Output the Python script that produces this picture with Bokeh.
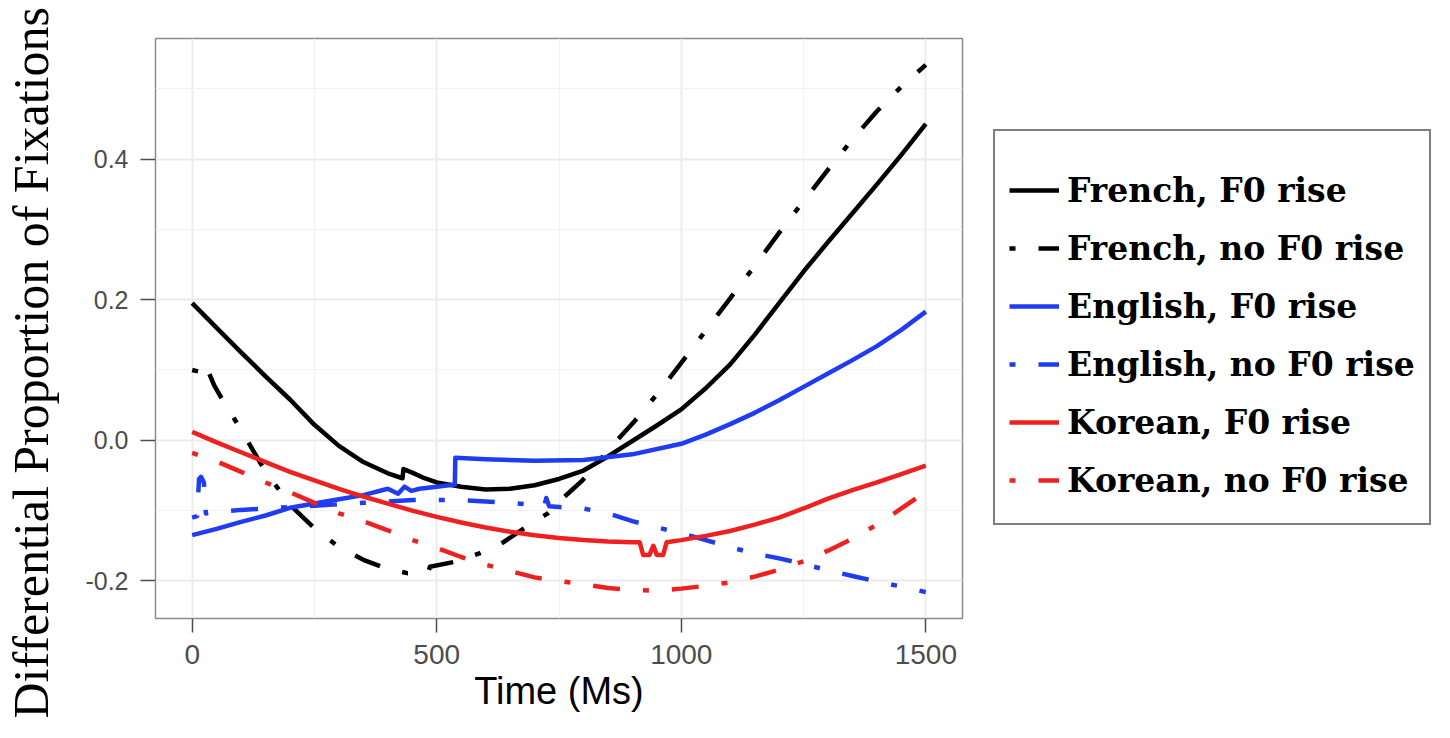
from bokeh.plotting import figure
from bokeh.layouts import row
from bokeh.models import Range1d, FixedTicker, Legend, LegendItem, Title
from bokeh.embed import file_html
from bokeh.resources import INLINE

# ---------------- data ----------------
x_ticks = [0, 500, 1000, 1500]
x_minor = [250, 750, 1250]
y_ticks = [-0.2, 0.0, 0.2, 0.4]
y_minor = [-0.1, 0.1, 0.3, 0.5]
y_tick_labels = {-0.2: "-0.2", 0.0: "0.0", 0.2: "0.2", 0.4: "0.4"}

french_rise_t = [0, 50, 100, 150, 200, 250, 300, 350, 400, 430, 432, 450, 475, 500, 550, 600,
                 650, 700, 750, 800, 850, 900, 950, 1000, 1050, 1100, 1150, 1200, 1250, 1300,
                 1350, 1400, 1450, 1500]
french_rise_v = [0.195, 0.160, 0.125, 0.091, 0.058, 0.022, -0.008, -0.031, -0.047, -0.054, -0.041,
                 -0.046, -0.054, -0.060, -0.066, -0.070, -0.069, -0.064, -0.055, -0.043, -0.023,
                 -0.001, 0.021, 0.044, 0.074, 0.108, 0.150, 0.195, 0.240, 0.282, 0.323, 0.364,
                 0.406, 0.450]

french_norise_t = [0, 18, 22, 30, 45, 65, 100, 125, 150, 175, 200, 250, 300, 350, 400, 440, 483,
                   486, 536, 587, 632, 679, 727, 760, 798, 862, 903, 951, 1000, 1050, 1100, 1150,
                   1200, 1250, 1300, 1350, 1400, 1450, 1500]
french_norise_v = [0.100, 0.097, 0.108, 0.103, 0.078, 0.054, 0.015, -0.015, -0.045, -0.068, -0.092,
                   -0.125, -0.152, -0.170, -0.183, -0.189, -0.188, -0.180, -0.173, -0.161, -0.147,
                   -0.125, -0.104, -0.081, -0.057, -0.005, 0.026, 0.066, 0.110, 0.156, 0.202,
                   0.248, 0.295, 0.340, 0.385, 0.428, 0.468, 0.503, 0.534]

english_rise_t = [0, 50, 100, 150, 200, 250, 300, 350, 400, 421, 434, 448, 465, 500, 537, 538, 600,
                  700, 800, 900, 1000, 1050, 1100, 1150, 1200, 1250, 1300, 1350, 1400, 1450, 1500]
english_rise_v = [-0.135, -0.126, -0.116, -0.107, -0.096, -0.090, -0.084, -0.078, -0.069, -0.076,
                  -0.066, -0.072, -0.069, -0.066, -0.063, -0.025, -0.027, -0.029, -0.028, -0.020,
                  -0.005, 0.008, 0.023, 0.039, 0.057, 0.076, 0.095, 0.114, 0.134, 0.157, 0.183]

english_norise_t = [0, 10, 14, 18, 24, 28, 50, 100, 150, 200, 250, 300, 350, 400, 450, 500, 550,
                    600, 650, 700, 720, 724, 730, 750, 800, 850, 900, 950, 1000, 1050, 1100, 1150,
                    1200, 1250, 1300, 1350, 1400, 1450, 1500]
english_norise_v = [-0.110, -0.108, -0.055, -0.052, -0.060, -0.104, -0.102, -0.099, -0.097, -0.095,
                    -0.093, -0.091, -0.089, -0.087, -0.085, -0.085, -0.085, -0.087, -0.089, -0.092,
                    -0.093, -0.082, -0.094, -0.095, -0.097, -0.104, -0.115, -0.124, -0.132, -0.142,
                    -0.152, -0.161, -0.168, -0.176, -0.185, -0.193, -0.201, -0.208, -0.216]

korean_rise_t = [0, 50, 100, 150, 200, 250, 300, 350, 400, 450, 500, 550, 600, 650, 700, 750, 800,
                 850, 900, 915, 922, 935, 943, 950, 963, 970, 1000, 1050, 1100, 1150, 1200, 1250,
                 1300, 1350, 1400, 1450, 1500]
korean_rise_v = [0.012, -0.003, -0.017, -0.031, -0.045, -0.057, -0.069, -0.080, -0.090, -0.100,
                 -0.109, -0.117, -0.124, -0.130, -0.135, -0.139, -0.142, -0.144, -0.145, -0.145,
                 -0.163, -0.163, -0.150, -0.163, -0.163, -0.145, -0.142, -0.136, -0.129, -0.120,
                 -0.110, -0.097, -0.083, -0.071, -0.060, -0.048, -0.036]

korean_norise_t = [0, 50, 100, 150, 200, 250, 300, 350, 400, 450, 500, 550, 600, 650, 700, 750,
                   800, 850, 900, 950, 1000, 1050, 1100, 1150, 1200, 1250, 1300, 1350, 1400, 1450,
                   1500]
korean_norise_v = [-0.018, -0.030, -0.045, -0.060, -0.074, -0.089, -0.104, -0.115, -0.128, -0.142,
                   -0.153, -0.166, -0.177, -0.186, -0.195, -0.200, -0.205, -0.210, -0.213, -0.214,
                   -0.211, -0.207, -0.202, -0.194, -0.184, -0.172, -0.157, -0.140, -0.120, -0.097,
                   -0.073]

series_labels = ["French, F0 rise", "French, no F0 rise", "English, F0 rise",
                 "English, no F0 rise", "Korean, F0 rise", "Korean, no F0 rise"]

x_title = "Time (Ms)"
y_title = "Differential Proportion of Fixations"

# ---------------- styles ----------------
BLACK = "#000000"
BLUE = "#1f3cf0"
RED = "#ee2020"
DOTDASH = "6 23 27 23"
LW = 4.5
PAGE_H = 738
LAB_W = 60

# ---- narrow strip that carries the long y-axis title (a side-panel title, not clipped) ----
lab = figure(width=LAB_W, height=PAGE_H, output_backend="svg", toolbar_location=None,
             x_range=Range1d(0, 1), y_range=Range1d(0, 1), min_border=0)
lab.axis.visible = False
lab.grid.visible = False
lab.outline_line_color = None
lab.background_fill_color = "white"
lab.border_fill_color = "white"
lab.add_layout(Title(text=y_title, align="left", offset=-100, standoff=0,
                     vertical_align="bottom",
                     text_font="Liberation Serif", text_font_size="50px",
                     text_font_style="normal", text_color="black"), "left")

# ---- main plot ----
p = figure(frame_width=807, frame_height=580, output_backend="svg", toolbar_location=None,
           x_range=Range1d(-75, 1575), y_range=Range1d(-0.2535, 0.5715),
           min_border_left=155 - LAB_W, min_border_right=0, min_border_top=38,
           min_border_bottom=PAGE_H - 618)
p.background_fill_color = "white"
p.border_fill_color = "white"
p.outline_line_color = "#8c8c8c"
p.outline_line_width = 1.5

p.xaxis.ticker = FixedTicker(ticks=x_ticks, minor_ticks=x_minor)
p.yaxis.ticker = FixedTicker(ticks=y_ticks, minor_ticks=y_minor)
p.yaxis.major_label_overrides = y_tick_labels

for ax in (p.xaxis, p.yaxis):
    ax.axis_line_color = None
    ax.major_tick_line_color = "#4d4d4d"
    ax.major_tick_line_width = 1.5
    ax.major_tick_in = 0
    ax.minor_tick_line_color = None
    ax.major_label_text_font = "Liberation Sans"
    ax.major_label_text_color = "#4d4d4d"

p.xaxis.major_tick_out = 14
p.xaxis.major_label_text_font_size = "28px"
p.xaxis.major_label_standoff = 12
p.yaxis.major_tick_out = 15
p.yaxis.major_label_text_font_size = "25px"
p.yaxis.major_label_standoff = 12

p.xaxis.axis_label = x_title
p.xaxis.axis_label_text_font = "Liberation Sans"
p.xaxis.axis_label_text_font_size = "38px"
p.xaxis.axis_label_text_font_style = "normal"
p.xaxis.axis_label_text_color = "black"
p.xaxis.axis_label_standoff = 3

p.xgrid.grid_line_color = "#ebebeb"
p.xgrid.grid_line_width = 1.8
p.ygrid.grid_line_color = "#ebebeb"
p.ygrid.grid_line_width = 1.8
p.xgrid.minor_grid_line_color = "#f2f2f2"
p.xgrid.minor_grid_line_width = 1.2
p.ygrid.minor_grid_line_color = "#f2f2f2"
p.ygrid.minor_grid_line_width = 1.2

series = [
    (french_rise_t, french_rise_v, BLACK, "solid"),
    (french_norise_t, french_norise_v, BLACK, DOTDASH),
    (english_rise_t, english_rise_v, BLUE, "solid"),
    (english_norise_t, english_norise_v, BLUE, DOTDASH),
    (korean_rise_t, korean_rise_v, RED, "solid"),
    (korean_norise_t, korean_norise_v, RED, DOTDASH),
]

items = []
for (t, v, col, dash), name in zip(series, series_labels):
    r = p.line(t, v, line_color=col, line_width=LW, line_dash=dash,
               line_cap="butt", line_join="round")
    items.append(LegendItem(label=name, renderers=[r]))

legend = Legend(items=items, location=(31, 93), orientation="vertical")
legend.title = " "
legend.title_text_font_size = "12px"
legend.title_standoff = 2
legend.label_text_font = "DejaVu Serif"
legend.label_text_font_size = "33px"
legend.label_text_font_style = "bold"
legend.label_text_color = "black"
legend.glyph_width = 50
legend.glyph_height = 58
legend.label_height = 58
legend.label_standoff = 8
legend.spacing = 0
legend.padding = 14
legend.margin = 0
legend.border_line_color = "black"
legend.border_line_width = 2
legend.background_fill_color = "white"
legend.background_fill_alpha = 1.0
p.add_layout(legend, "right")

layout = row(lab, p, spacing=0)
open("out.html", "w").write(file_html(layout, INLINE))
